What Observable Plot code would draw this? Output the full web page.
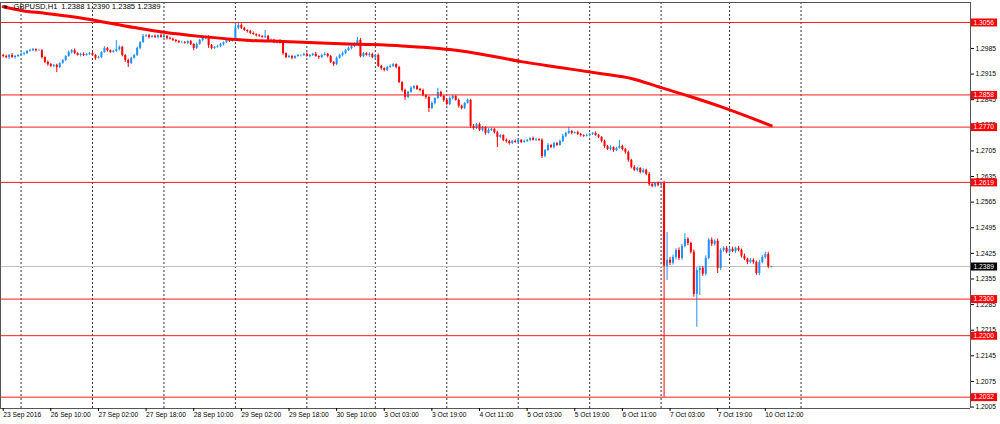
<!DOCTYPE html>
<html><head><meta charset="utf-8">
<script src="https://cdn.jsdelivr.net/npm/d3@7"></script>
<script src="https://cdn.jsdelivr.net/npm/@observablehq/plot@0.6"></script>
<style>
html,body{margin:0;padding:0;background:#fff;overflow:hidden}
#chart{position:relative;width:1000px;height:424px}
</style></head><body><div id="chart"></div>
<script>
// ---------- data ----------
const symbol = "GBPUSD", timeframe = "H1";
const firstOpen = 1.2966;
const close = [
1.2963,1.2960,1.2966,1.2960,1.2963,1.2966,1.2969,1.2971,1.2977,1.2979,
1.2982,1.2979,1.2979,1.2960,1.2947,1.2941,1.2936,1.2939,1.2933,1.2944,
1.2952,1.2963,1.2974,1.2979,1.2971,1.2966,1.2969,1.2966,1.2969,1.2971,
1.2966,1.2958,1.2960,1.2974,1.2985,1.2979,1.2974,1.2977,1.2982,1.2988,
1.2966,1.2952,1.2944,1.2958,1.2966,1.2985,1.3001,1.3018,1.3020,1.3015,
1.3018,1.3015,1.3020,1.3015,1.3018,1.3012,1.3010,1.3007,1.3004,1.3001,
1.3001,1.2999,1.3004,1.2996,1.2985,1.2996,1.3007,1.3012,1.3015,1.2993,
1.2985,1.2988,1.2990,1.2996,1.3001,1.3007,1.3004,1.3010,1.3040,1.3048,
1.3040,1.3034,1.3031,1.3026,1.3023,1.3020,1.3018,1.3015,1.3018,1.3007,
1.3007,1.3001,1.3004,1.2999,1.2971,1.2960,1.2963,1.2958,1.2963,1.2966,
1.2966,1.2969,1.2963,1.2966,1.2969,1.2963,1.2960,1.2966,1.2969,1.2963,
1.2947,1.2941,1.2958,1.2966,1.2971,1.2979,1.2985,1.2990,1.2996,1.3007,
1.2963,1.2971,1.2966,1.2969,1.2960,1.2966,1.2936,1.2930,1.2925,1.2933,
1.2936,1.2941,1.2933,1.2892,1.2870,1.2851,1.2865,1.2876,1.2881,1.2873,
1.2870,1.2856,1.2851,1.2821,1.2835,1.2848,1.2865,1.2854,1.2843,1.2832,
1.2848,1.2854,1.2843,1.2827,1.2821,1.2835,1.2843,1.2772,1.2766,1.2777,
1.2761,1.2769,1.2753,1.2761,1.2764,1.2755,1.2742,1.2747,1.2734,1.2731,
1.2725,1.2731,1.2728,1.2734,1.2728,1.2731,1.2734,1.2739,1.2734,1.2736,
1.2734,1.2690,1.2706,1.2720,1.2714,1.2725,1.2720,1.2731,1.2745,1.2753,
1.2758,1.2753,1.2755,1.2750,1.2747,1.2745,1.2747,1.2750,1.2753,1.2747,
1.2742,1.2731,1.2717,1.2709,1.2714,1.2706,1.2712,1.2717,1.2709,1.2701,
1.2679,1.2660,1.2652,1.2657,1.2646,1.2652,1.2641,1.2613,1.2608,1.2616,1.2611,1.2616,
1.2390,
1.2406,1.2398,1.2414,1.2433,1.2411,1.2444,1.2463,1.2452,1.2428,1.2313,
1.2378,1.2384,1.2368,1.2411,1.2461,1.2450,1.2458,1.2384,1.2433,1.2439,
1.2428,1.2436,1.2430,1.2439,1.2433,1.2417,1.2409,1.2400,1.2406,1.2400,
1.2370,1.2400,1.2414,1.2422,1.2388,1.2389
];
// wick lengths beyond the body, in pips
const wickUp = [
3,4,2,5,3,2,4,3,2,4, 3,2,4,3,2,4,3,2,3,2, 3,2,4,3,5,2,3,4,2,3, 4,2,3,2,5,3,2,3,25,4,
3,2,4,3,2,4,3,5,3,4, 3,4,2,5,3,2,4,3,2,3, 4,3,2,3,2,4,3,2,4,5, 3,2,4,3,2,4,3,2,13,8,
4,3,2,3,4,2,3,2,16,3, 4,3,2,5,3,2,4,3,2,3, 2,3,4,2,3,5,2,3,4,2, 3,2,4,3,5,3,4,6,4,8,
5,3,2,4,3,2,4,3,2,3, 4,3,2,3,2,4,3,5,2,3, 3,4,2,3,4,2,11,3,2,4, 5,3,2,4,3,2,4,3,5,3,
4,3,2,5,3,2,4,3,2,4, 3,2,4,3,2,4,3,2,4,3, 2,4,3,5,2,4,3,4,5,3, 11,3,2,4,3,2,4,3,2,4,
3,2,4,3,5,2,3,17,4,3, 4,3,5,3,2,4,3,5,3,2,4,3,
6,
76,8,6,5,7,6,16,5,4,6, 8,6,5,7,5,6,4,6,5,4, 5,4,6,3,5,4,6,3,5,4, 4,6,5,6,6,1
];
const wickDown = [
4,3,5,2,4,3,2,4,3,2, 3,4,2,4,3,5,3,4,14,3, 2,3,2,4,3,2,4,3,2,3, 3,5,2,3,2,4,3,2,3,4,
4,5,11,3,2,3,4,2,3,4, 2,3,4,2,3,4,2,3,4,3, 3,2,4,3,6,3,2,4,3,8, 4,3,2,3,4,2,3,2,3,4,
3,2,4,3,2,4,3,2,3,4, 2,3,4,2,5,3,2,4,3,2, 4,3,2,4,3,2,5,3,2,4, 3,5,3,2,4,3,2,4,3,2,
4,3,2,5,3,4,3,5,4,3, 2,3,4,3,5,8,3,2,4,3, 4,3,5,11,3,4,2,3,5,4, 3,4,2,5,4,3,2,6,4,3,
3,4,5,2,3,4,28,3,4,5, 4,3,2,4,3,2,3,4,2,3, 3,6,4,3,2,4,3,2,3,4, 3,4,2,3,4,3,2,4,3,2,
3,4,5,3,4,5,3,2,4,5, 5,4,3,5,4,3,4,5,4,3,4,3,
358,
39,6,5,7,6,5,4,6,5,8, 90,68,6,5,4,6,5,14,6,5, 4,5,3,5,4,5,4,6,4,5, 5,6,4,5,5,3
];
const levels = [1.3056, 1.2858, 1.2770, 1.2619, 1.2300, 1.2200, 1.2032];
const maBars   = [0, 6, 14, 27, 44, 54, 66, 83, 94, 109, 122, 134, 150, 163, 174, 187, 201, 211, 221, 231, 241, 251, 258];
const maValues = [1.3099, 1.3089, 1.3081, 1.3067, 1.3042, 1.3029, 1.3018, 1.3007, 1.3004, 1.2999, 1.2996, 1.2992, 1.2982, 1.2966, 1.2949, 1.2933, 1.2916, 1.2903, 1.2878, 1.2853, 1.2826, 1.2796, 1.2774];
const dayStartBars = [6, 30, 54, 78, 102, 125, 149, 173, 197, 221, 244, 268];
const timeTickBars = [0, 16, 32, 48, 64, 80, 96, 112, 128, 144, 160, 176, 192, 208, 224, 240, 256];
const timeTickLabels = ["23 Sep 2016","26 Sep 10:00","27 Sep 02:00","27 Sep 18:00","28 Sep 10:00","29 Sep 02:00","29 Sep 18:00","30 Sep 10:00","3 Oct 03:00","3 Oct 19:00","4 Oct 11:00","5 Oct 03:00","5 Oct 19:00","6 Oct 11:00","7 Oct 03:00","7 Oct 19:00","10 Oct 12:00"];
const priceTicks = [1.2005, 1.2075, 1.2145, 1.2215, 1.2285, 1.2355, 1.2425, 1.2495, 1.2565, 1.2635, 1.2705, 1.2775, 1.2845, 1.2915, 1.2985, 1.3055];

// ---------- build ----------
const UP = "#1e90ff", DOWN = "#ff0000";
const bars = close.map((c, i) => {
  const o = i ? close[i - 1] : firstOpen;
  return {i, o, c, h: Math.max(o, c) + wickUp[i] / 1e4, l: Math.min(o, c) - wickDown[i] / 1e4, col: c >= o ? UP : DOWN};
});
const last = bars[bars.length - 1];
const ma = maBars.map((b, k) => ({b, v: maValues[k]}));
const tickLabel = new Map(timeTickBars.map((b, k) => [b, timeTickLabels[k]]));
const header = `${symbol},${timeframe}\u2002${last.o.toFixed(4)} ${last.h.toFixed(4)} ${last.l.toFixed(4)} ${last.c.toFixed(4)}`;

const X0 = -0.907, X1 = 324.93, Y0 = 1.2001, Y1 = 1.31106;
const boxX1 = X1 + 0.34, boxX2 = X1 + 9.1;
const FONT = "'Liberation Sans', Arial, sans-serif";

const chart = Plot.plot({
  width: 1000, height: 424,
  marginTop: 2, marginBottom: 16, marginLeft: 0, marginRight: 30,
  style: {background: "#fff", color: "#000", fontFamily: FONT, fontSize: "6.7px"},
  color: {type: "identity"},
  x: {type: "linear", domain: [X0, X1]},
  y: {type: "linear", domain: [Y0, Y1]},
  marks: [
    Plot.ruleX(dayStartBars, {x: d => d, stroke: "#333", strokeDasharray: "2,2", strokeWidth: 1}),
    Plot.ruleY([last.c], {y: d => d, stroke: "#c0c0c0", strokeWidth: 1}),
    Plot.ruleX(bars, {x: "i", y1: "l", y2: "h", stroke: "col", strokeWidth: 1}),
    Plot.ruleX(bars, {x: "i", y1: "o", y2: "c", stroke: "col", strokeWidth: 2}),
    Plot.ruleY(levels, {y: d => d, stroke: "#ff1a1a", strokeWidth: 1}),
    Plot.line(ma, {x: "b", y: "v", stroke: "#ff0000", strokeWidth: 3, curve: "monotone-x"}),
    Plot.ruleX([X0, X1], {x: d => d, stroke: "#555"}),
    Plot.ruleY([Y0, Y1], {y: d => d, stroke: "#555"}),
    Plot.axisY({anchor: "right", ticks: priceTicks, tickFormat: d => d.toFixed(4), tickSize: 3, tickPadding: 2, label: null}),
    Plot.axisX({anchor: "bottom", ticks: timeTickBars, tickFormat: d => tickLabel.get(d), tickSize: 3, tickPadding: 1, textAnchor: "start", label: null}),
    Plot.ruleY(levels, {y: d => d, x1: () => boxX1, x2: () => boxX2, stroke: "#ff0000", strokeWidth: 8}),
    Plot.text(levels, {y: d => d, x: () => boxX1, dx: 2, text: d => d.toFixed(4), fill: "#fff", textAnchor: "start"}),
    Plot.ruleY([last.c], {y: d => d, x1: () => boxX1, x2: () => boxX2, stroke: "#000", strokeWidth: 8}),
    Plot.text([last.c], {y: d => d, x: () => boxX1, dx: 2, text: d => d.toFixed(4), fill: "#fff", textAnchor: "start"}),
    Plot.text(["\u25BC"], {frameAnchor: "top-left", dx: 2, dy: 2, fontSize: 6, fill: "#000"}),
    Plot.text([header], {frameAnchor: "top-left", dx: 13, dy: 1, fontSize: 7.6, fill: "#000"})
  ]
});
document.getElementById("chart").appendChild(chart);
</script>
</body></html>
